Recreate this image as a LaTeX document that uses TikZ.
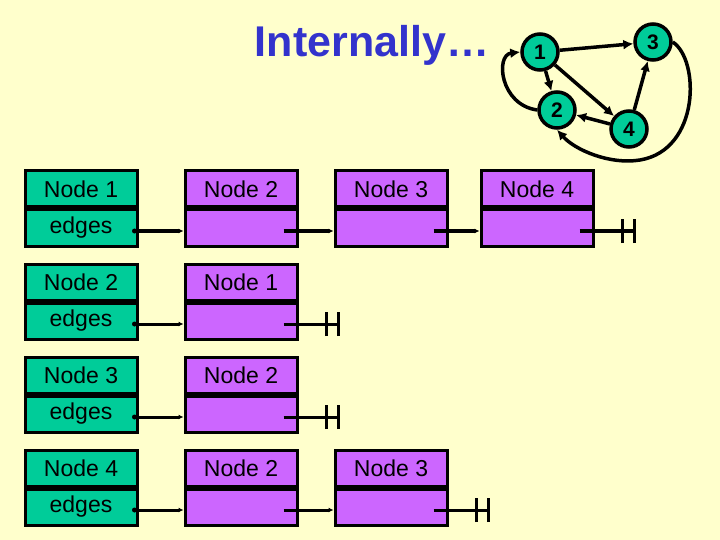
\documentclass[tikz,border=0pt]{standalone}
\usepackage{fontspec}
\setmainfont{Liberation Sans}
\usetikzlibrary{arrows.meta}
\definecolor{bg}{RGB}{255,255,204}
\definecolor{gr}{RGB}{0,204,153}
\definecolor{pu}{RGB}{204,102,255}
\definecolor{ti}{RGB}{51,51,204}
\begin{document}
\begin{tikzpicture}[x=1pt,y=-1pt,
 box/.style={draw=black,line width=3pt,minimum width=112pt,minimum height=36pt,inner sep=0pt,font=\fontsize{23}{23}\selectfont},
 gbox/.style={box,fill=gr},pbox/.style={box,fill=pu},
 ptr/.style={line width=3pt,-{Latex[length=5pt,width=5pt]}},
 nul/.style={line width=3pt},
 gv/.style={circle,draw=black,line width=3.5pt,fill=gr,minimum size=36pt,inner sep=0pt,font=\bfseries\fontsize{21}{21}\selectfont},
 ge/.style={line width=3.5pt,-{Latex[length=10pt,width=10pt]}}]
\fill[bg] (0,0) rectangle (720,540);
\node[font=\bfseries\fontsize{43}{43}\selectfont,text=ti] (title) at (372,45) {Internally…};
% graph
\node[gv] (g1) at (540,52) {1};
\node[gv] (g3) at (653,42) {3};
\node[gv] (g2) at (557,110) {2};
\node[gv] (g4) at (629,129) {4};
\draw[ge] (g1) -- (g3);
\draw[ge] (g1) -- (g2);
\draw[ge] (g1) -- (g4);
\draw[ge] (g4) -- (g2);
\draw[ge] (g4) -- (g3);
\draw[ge] (g2.west) .. controls (500,105) and (495,55) .. (g1.west);
\draw[ge] (g3.east) .. controls (700,60) and (700,150) .. (640,160) .. controls (610,165) and (575,150) .. (g2.south);
% rows
\foreach \r/\y in {1/189,2/282,3/375,4/468}{
 \node[gbox] (a\r) at (81,\y) {Node \r};
 \node[gbox,anchor=north] (e\r) at (a\r.south) {edges};
}
\node[pbox] (b1) at (241,189) {Node 2}; \node[pbox,anchor=north] (c1) at (b1.south) {};
\node[pbox] (b2) at (241,282) {Node 1}; \node[pbox,anchor=north] (c2) at (b2.south) {};
\node[pbox] (b3) at (241,375) {Node 2}; \node[pbox,anchor=north] (c3) at (b3.south) {};
\node[pbox] (b4) at (241,468) {Node 2}; \node[pbox,anchor=north] (c4) at (b4.south) {};
\node[pbox] (d1) at (391,189) {Node 3}; \node[pbox,anchor=north] (f1) at (d1.south) {};
\node[pbox] (h1) at (537,189) {Node 4}; \node[pbox,anchor=north] (k1) at (h1.south) {};
\node[pbox] (d4) at (391,468) {Node 3}; \node[pbox,anchor=north] (f4) at (d4.south) {};
\foreach \r in {1,2,3,4}{
 \fill ([xshift=-4pt,yshift=-3pt]e\r.east) circle (2.5pt);
 \draw[ptr] ([xshift=-4pt,yshift=-3pt]e\r.east) -- ([yshift=-3pt]c\r.west);
}
\draw[ptr] ([xshift=-15pt,yshift=-3pt]c1.east) -- ([yshift=-3pt]f1.west);
\draw[ptr] ([xshift=-15pt,yshift=-3pt]f1.east) -- ([yshift=-3pt]k1.west);
\draw[ptr] ([xshift=-15pt,yshift=-3pt]c4.east) -- ([yshift=-3pt]f4.west);
% null terminators
\foreach \n in {k1,c2,c3,f4}{
 \coordinate (s\n) at ([xshift=-15pt,yshift=-3pt]\n.east);
 \coordinate (t\n) at ([xshift=28pt,yshift=-3pt]\n.east);
 \draw[nul] (s\n) -- (t\n);
 \draw[nul] ([yshift=-12pt]t\n) -- ([yshift=12pt]t\n);
 \draw[nul] ([xshift=12pt,yshift=-12pt]t\n) -- ([xshift=12pt,yshift=12pt]t\n);
 \draw[nul] (t\n) -- ([xshift=12pt]t\n);
}
\end{tikzpicture}
\end{document}
